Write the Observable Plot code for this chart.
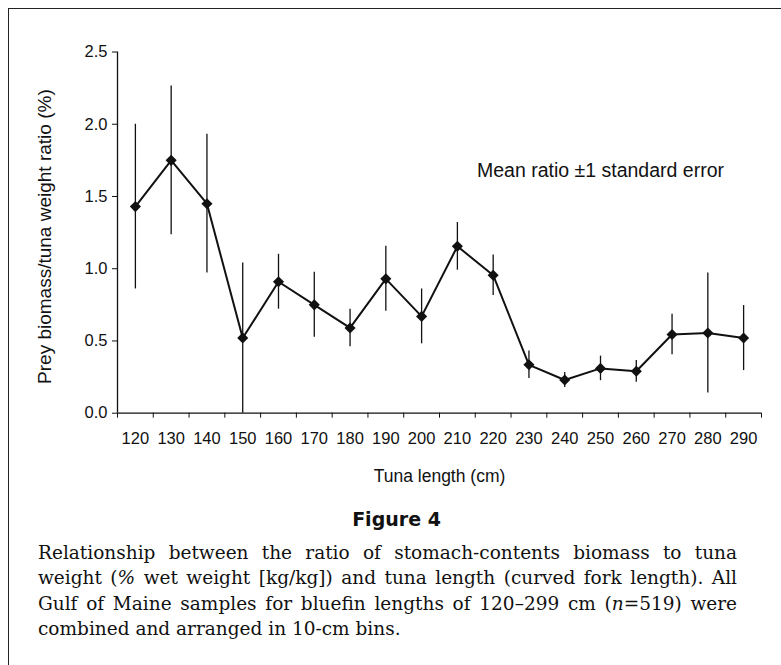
<!DOCTYPE html>
<html>
<head>
<meta charset="utf-8">
<script src="https://cdn.jsdelivr.net/npm/d3@7"></script>
<script src="https://cdn.jsdelivr.net/npm/@observablehq/plot@0.6"></script>
<style>
  html, body { margin: 0; padding: 0; background: #fff; }
  #page { position: relative; width: 781px; height: 665px; overflow: hidden; }
  #frame { position: absolute; left: 8px; top: 8px; width: 800px; height: 700px;
           border-left: 1.5px solid #222; border-top: 1.5px solid #222; }
  #chart { position: absolute; left: 0; top: 0; }
  #fig { position: absolute; left: 6px; width: 781px; top: 508px; text-align: center;
         font-family: "DejaVu Sans", "Liberation Sans", sans-serif; font-weight: bold; font-size: 19px; color: #111; }
  #caption { position: absolute; left: 38px; width: 699px; top: 540px;
             font-family: "DejaVu Serif", "Liberation Serif", serif; font-size: 18.5px; line-height: 25.3px; color: #111; }
  #caption .ln { text-align: justify; text-align-last: justify; white-space: nowrap; }
  #caption .last { text-align: left; text-align-last: left; }
</style>
</head>
<body>
<div id="page">
  <div id="frame"></div>
  <div id="chart"></div>
  <div id="fig">Figure 4</div>
  <div id="caption">
    <div class="ln">Relationship between the ratio of stomach-contents biomass to tuna</div>
    <div class="ln">weight (<i>%</i> wet weight [kg/kg]) and tuna length (curved fork length). All</div>
    <div class="ln">Gulf of Maine samples for bluefin lengths of 120–299 cm (<i>n</i>=519) were</div>
    <div class="ln last">combined and arranged in 10-cm bins.</div>
  </div>
</div>
<script>
// Data
const lengths = [120, 130, 140, 150, 160, 170, 180, 190, 200, 210, 220, 230, 240, 250, 260, 270, 280, 290];
const meanRatio = [1.43, 1.75, 1.45, 0.52, 0.91, 0.75, 0.59, 0.93, 0.67, 1.155, 0.955, 0.335, 0.23, 0.31, 0.29, 0.545, 0.555, 0.52];
const stdError = [0.57, 0.515, 0.48, 0.52, 0.19, 0.225, 0.13, 0.225, 0.19, 0.165, 0.14, 0.095, 0.052, 0.085, 0.075, 0.14, 0.415, 0.225];
const yTicks = [0, 0.5, 1.0, 1.5, 2.0, 2.5];
const xTitle = "Tuna length (cm)";
const yTitle = "Prey biomass/tuna weight ratio (%)";
const annotation = [{x: 250, y: 1.68, text: "Mean ratio ±1 standard error"}];

const data = lengths.map((L, i) => ({length: L, mean: meanRatio[i], se: stdError[i]}));
const binHalf = (lengths[1] - lengths[0]) / 2;
const xDomain = [lengths[0] - binHalf, lengths[lengths.length - 1] + binHalf];
const binEdges = lengths.map(d => d - binHalf).concat([xDomain[1]]);

const font = "'Liberation Sans', Arial, sans-serif";

const chart = Plot.plot({
  width: 781,
  height: 495,
  marginLeft: 117,
  marginRight: 20,
  marginTop: 51.5,
  marginBottom: 82.3,
  style: {fontFamily: font, fontSize: "17px", color: "#111", background: "transparent"},
  x: {type: "linear", domain: xDomain},
  y: {type: "linear", domain: [yTicks[0], yTicks[yTicks.length - 1]]},
  marks: [
    Plot.ruleY([yTicks[0]], {x1: xDomain[0], x2: xDomain[1], stroke: "#111", strokeWidth: 1.3}),
    Plot.ruleX([xDomain[0]], {y1: yTicks[0], y2: yTicks[yTicks.length - 1], stroke: "#111", strokeWidth: 1.3}),
    Plot.axisX({ticks: binEdges, tickSize: 5, tickFormat: () => "", label: null, stroke: "#111"}),
    Plot.axisX({ticks: lengths, tickSize: 0, tickPadding: 19, fontSize: 16.5, label: null}),
    Plot.axisY({ticks: yTicks, tickSize: 5, tickPadding: 5, tickFormat: d3.format(".1f"), fontSize: 16.5, label: null}),
    Plot.text([xTitle], {frameAnchor: "bottom", dy: 69, fontSize: 17.5, fill: "#111"}),
    Plot.text([yTitle], {frameAnchor: "left", textAnchor: "middle", lineAnchor: "middle", rotate: -90, dx: -73, dy: 4, fontSize: 19, fill: "#111"}),
    Plot.ruleX(data, {x: "length", y1: d => Math.max(0, d.mean - d.se), y2: d => d.mean + d.se, stroke: "#111", strokeWidth: 1.3}),
    Plot.lineY(data, {x: "length", y: "mean", stroke: "#111", strokeWidth: 2}),
    Plot.dot(data, {x: "length", y: "mean", symbol: "diamond2", r: 5, fill: "#111", stroke: "none"}),
    Plot.text(annotation, {x: "x", y: "y", text: "text", fontSize: 19.5, fill: "#111"})
  ]
});
document.getElementById("chart").appendChild(chart);
</script>
</body>
</html>
